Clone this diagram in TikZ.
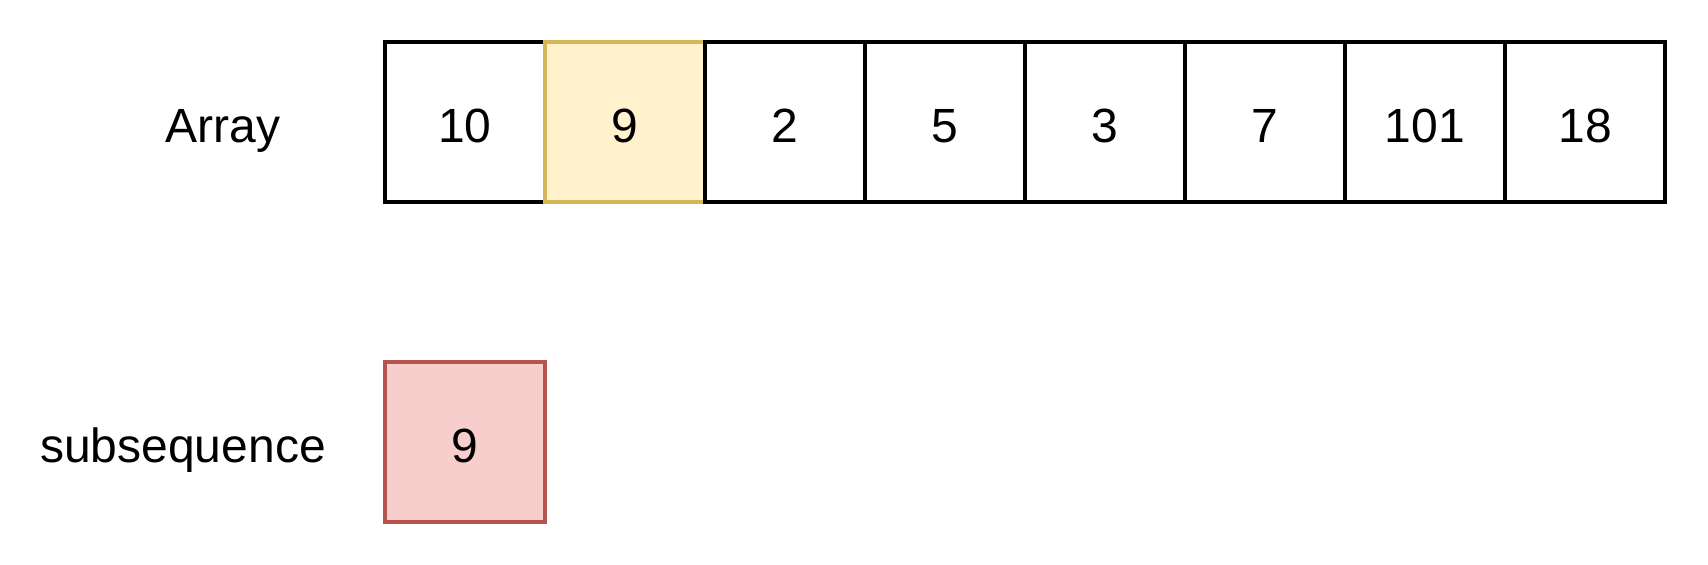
\documentclass[tikz,border=0pt]{standalone}
\usepackage{fontspec}
\setmainfont{Liberation Sans}
\usetikzlibrary{positioning}
\definecolor{pickfill}{HTML}{FFF2CC}
\definecolor{pickline}{HTML}{D6B656}
\definecolor{subfill}{HTML}{F8CECC}
\definecolor{subline}{HTML}{B85450}

\begin{document}
\begin{tikzpicture}[x=0.5pt, y=-0.5pt,
    txt/.style={font=\fontsize{24}{28}\selectfont, text height=20pt, text depth=0pt, inner sep=0pt},
    cell/.style={txt, draw, line width=1.8pt, minimum size=80pt, outer sep=0pt}]
    \useasboundingbox (0,0) rectangle (1708,564);

    % 1. 数组各格
    \node[cell] (c1) at (465,122) {10};
    \node[cell, fill=pickfill, draw=pickline, right=0pt of c1] (c2) {9};
    \node[cell, right=0pt of c2] (c3) {2};
    \node[cell, right=0pt of c3] (c4) {5};
    \node[cell, right=0pt of c4] (c5) {3};
    \node[cell, right=0pt of c5] (c6) {7};
    \node[cell, right=0pt of c6] (c7) {101};
    \node[cell, right=0pt of c7] (c8) {18};

    % 2. 子序列
    \node[cell, fill=subfill, draw=subline, below=80pt of c1] (s1) {9};

    % 3. 左侧文字
    \node[txt] (arraylabel) at (223,122) {Array};
    \node[txt] (sublabel) at (183,442) {subsequence};

\end{tikzpicture}
\end{document}
